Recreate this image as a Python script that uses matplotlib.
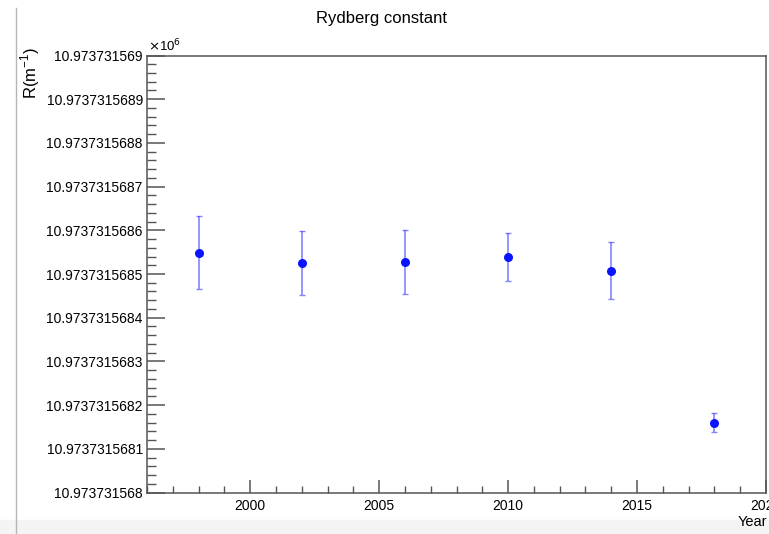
import matplotlib
matplotlib.use("Agg")
import matplotlib.pyplot as plt
import numpy as np
from matplotlib.ticker import MultipleLocator

# CODATA values of the Rydberg constant, m^-1
years = [1998, 2002, 2006, 2010, 2014, 2018]
rydberg = [10973731.568549, 10973731.568525, 10973731.568527,
           10973731.568539, 10973731.568508, 10973731.568160]
sigma = [0.000083, 0.000073, 0.000073, 0.000055, 0.000065, 0.000021]

plt.rcParams['font.family'] = ['Liberation Sans', 'DejaVu Sans']

fig = plt.figure(figsize=(7.69, 5.34), dpi=100)
ax = fig.add_axes([147 / 769, 41.5 / 534, 619 / 769, 437 / 534])

y = np.array(rydberg) / 1e6
dy = np.array(sigma) / 1e6
ax.errorbar(years, y, yerr=dy, fmt='none', ecolor=(0.2, 0.2, 1.0, 0.6),
            elinewidth=1.2, capsize=2, capthick=1.0)
ax.plot(years, y, 'o', color='#0a14ff', markersize=6.5, markeredgewidth=0)

ax.set_xlim(1996, 2020)
y0 = 10.973731568
ax.set_ylim(y0, y0 + 1e-9)

yt = y0 + np.arange(11) * 1e-10
ax.set_yticks(yt, [('%.10f' % v).rstrip('0') for v in yt])
ax.yaxis.set_minor_locator(MultipleLocator(0.2e-10))
ax.set_xticks([2000, 2005, 2010, 2015, 2020])
ax.xaxis.set_minor_locator(MultipleLocator(1))

for s in ax.spines.values():
    s.set_color('#555555')
    s.set_linewidth(1.1)

ax.tick_params(axis='y', which='major', direction='in', length=13, width=1.1,
               color='#555555', labelsize=10, pad=3)
ax.tick_params(axis='y', which='minor', direction='in', length=6.5, width=1.0,
               color='#555555')
ax.tick_params(axis='x', which='major', direction='in', length=9.5, width=1.1,
               color='#555555', labelsize=10, pad=5)
ax.tick_params(axis='x', which='minor', direction='in', length=5, width=1.0,
               color='#555555')

fig.text(381 / 769, 1 - 18 / 534, 'Rydberg constant', ha='center', va='center',
         fontsize=12)
fig.text(148 / 769, 1 - 54 / 534, r'$\times$10$^{6}$', ha='left', va='bottom',
         fontsize=9.5)
fig.text(30 / 769, 1 - 47 / 534, r'R(m$^{\mathregular{-1}}$)', rotation=90,
         ha='center', va='top', fontsize=12)
fig.text(767 / 769, 12 / 534, 'Year', ha='right', va='center', fontsize=10.5)

# window edge and bottom strip
fig.add_artist(plt.Line2D([15.5 / 769, 15.5 / 769], [0, 1 - 8 / 534],
                          transform=fig.transFigure, color='#b5b5b5', lw=1.0))
fig.add_artist(plt.Rectangle((0, 0), 1, 14 / 534, transform=fig.transFigure,
                             color='#f4f4f4', zorder=-1))

fig.savefig('out.png', dpi=100)
